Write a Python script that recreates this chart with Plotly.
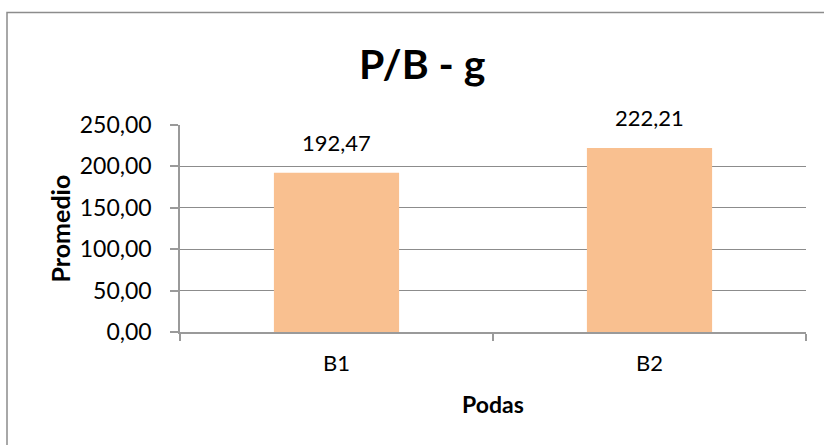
import plotly.graph_objects as go

# Data
categories = ["B1", "B2"]
promedio = [192.47, 222.21]
y_ticks = [0, 50, 100, 150, 200, 250]
y_tick_labels = ["0,00", "50,00", "100,00", "150,00", "200,00", "250,00"]

W, H = 824, 445
ML, MR, MT, MB = 180, 18, 125, 113
PW = W - ML - MR
PH = H - MT - MB


def px_to_paper_x(px):
    return (px - ML) / PW


def px_to_paper_y(py):
    return (H - MB - py) / PH


FONT = "Lato"
GRID = "#8c8c8c"
AXIS = "#9a9a9a"
BAR = "#F9C090"


def fmt(v):
    return f"{v:,.2f}".replace(",", "X").replace(".", ",").replace("X", ".")


fig = go.Figure(
    go.Bar(
        x=categories,
        y=promedio,
        marker=dict(color=BAR, line=dict(width=0)),
        width=0.4,
        hoverinfo="skip",
    )
)

annotations = []
# Value labels above each bar
for c, v in zip(categories, promedio):
    annotations.append(dict(
        x=c, y=v, xref="x", yref="y", text=fmt(v), showarrow=False,
        xanchor="center", yanchor="bottom", yshift=15,
        font=dict(family=FONT, size=22, color="#000"),
    ))

# Chart title
annotations.append(dict(
    x=px_to_paper_x(422.5), y=px_to_paper_y(63), xref="paper", yref="paper",
    text="P/B - g", showarrow=False, xanchor="center", yanchor="middle",
    font=dict(family=FONT, size=41, color="#000", weight="bold"),
))
# Axis titles
annotations.append(dict(
    x=px_to_paper_x(59), y=0.5, xref="paper", yref="paper",
    text="Promedio", showarrow=False, textangle=-90,
    xanchor="center", yanchor="middle",
    font=dict(family=FONT, size=25, color="#000", weight="bold"),
))
annotations.append(dict(
    x=0.5, y=px_to_paper_y(404), xref="paper", yref="paper",
    text="Podas", showarrow=False, xanchor="center", yanchor="middle",
    font=dict(family=FONT, size=23, color="#000", weight="bold"),
))

fig.update_layout(
    width=W, height=H,
    margin=dict(l=ML, r=MR, t=MT, b=MB, pad=0),
    paper_bgcolor="white", plot_bgcolor="white",
    showlegend=False,
    bargap=0.6,
    annotations=annotations,
    shapes=[dict(
        type="rect", xref="paper", yref="paper",
        x0=px_to_paper_x(7), x1=2, y0=-2, y1=px_to_paper_y(12.5),
        line=dict(color=GRID, width=1.5), fillcolor="rgba(0,0,0,0)",
        layer="below",
    )],
    xaxis=dict(
        type="category",
        showgrid=False,
        showline=True, linecolor=AXIS, linewidth=1.5,
        ticks="outside", tickson="boundaries", ticklen=7, tickwidth=1.5,
        tickcolor=AXIS,
        tickfont=dict(family=FONT, size=22, color="#000"),
        ticklabelstandoff=11,
        zeroline=False,
    ),
    yaxis=dict(
        range=[0, 250],
        tickvals=y_ticks, ticktext=y_tick_labels,
        showgrid=True, gridcolor=GRID, gridwidth=1.3,
        showline=True, linecolor=AXIS, linewidth=1.5,
        ticks="outside", ticklen=8, tickwidth=1.5, tickcolor=AXIS,
        tickfont=dict(family=FONT, size=23, color="#000"),
        ticklabelstandoff=14,
        zeroline=False,
    ),
)

fig.write_html("out.html")
